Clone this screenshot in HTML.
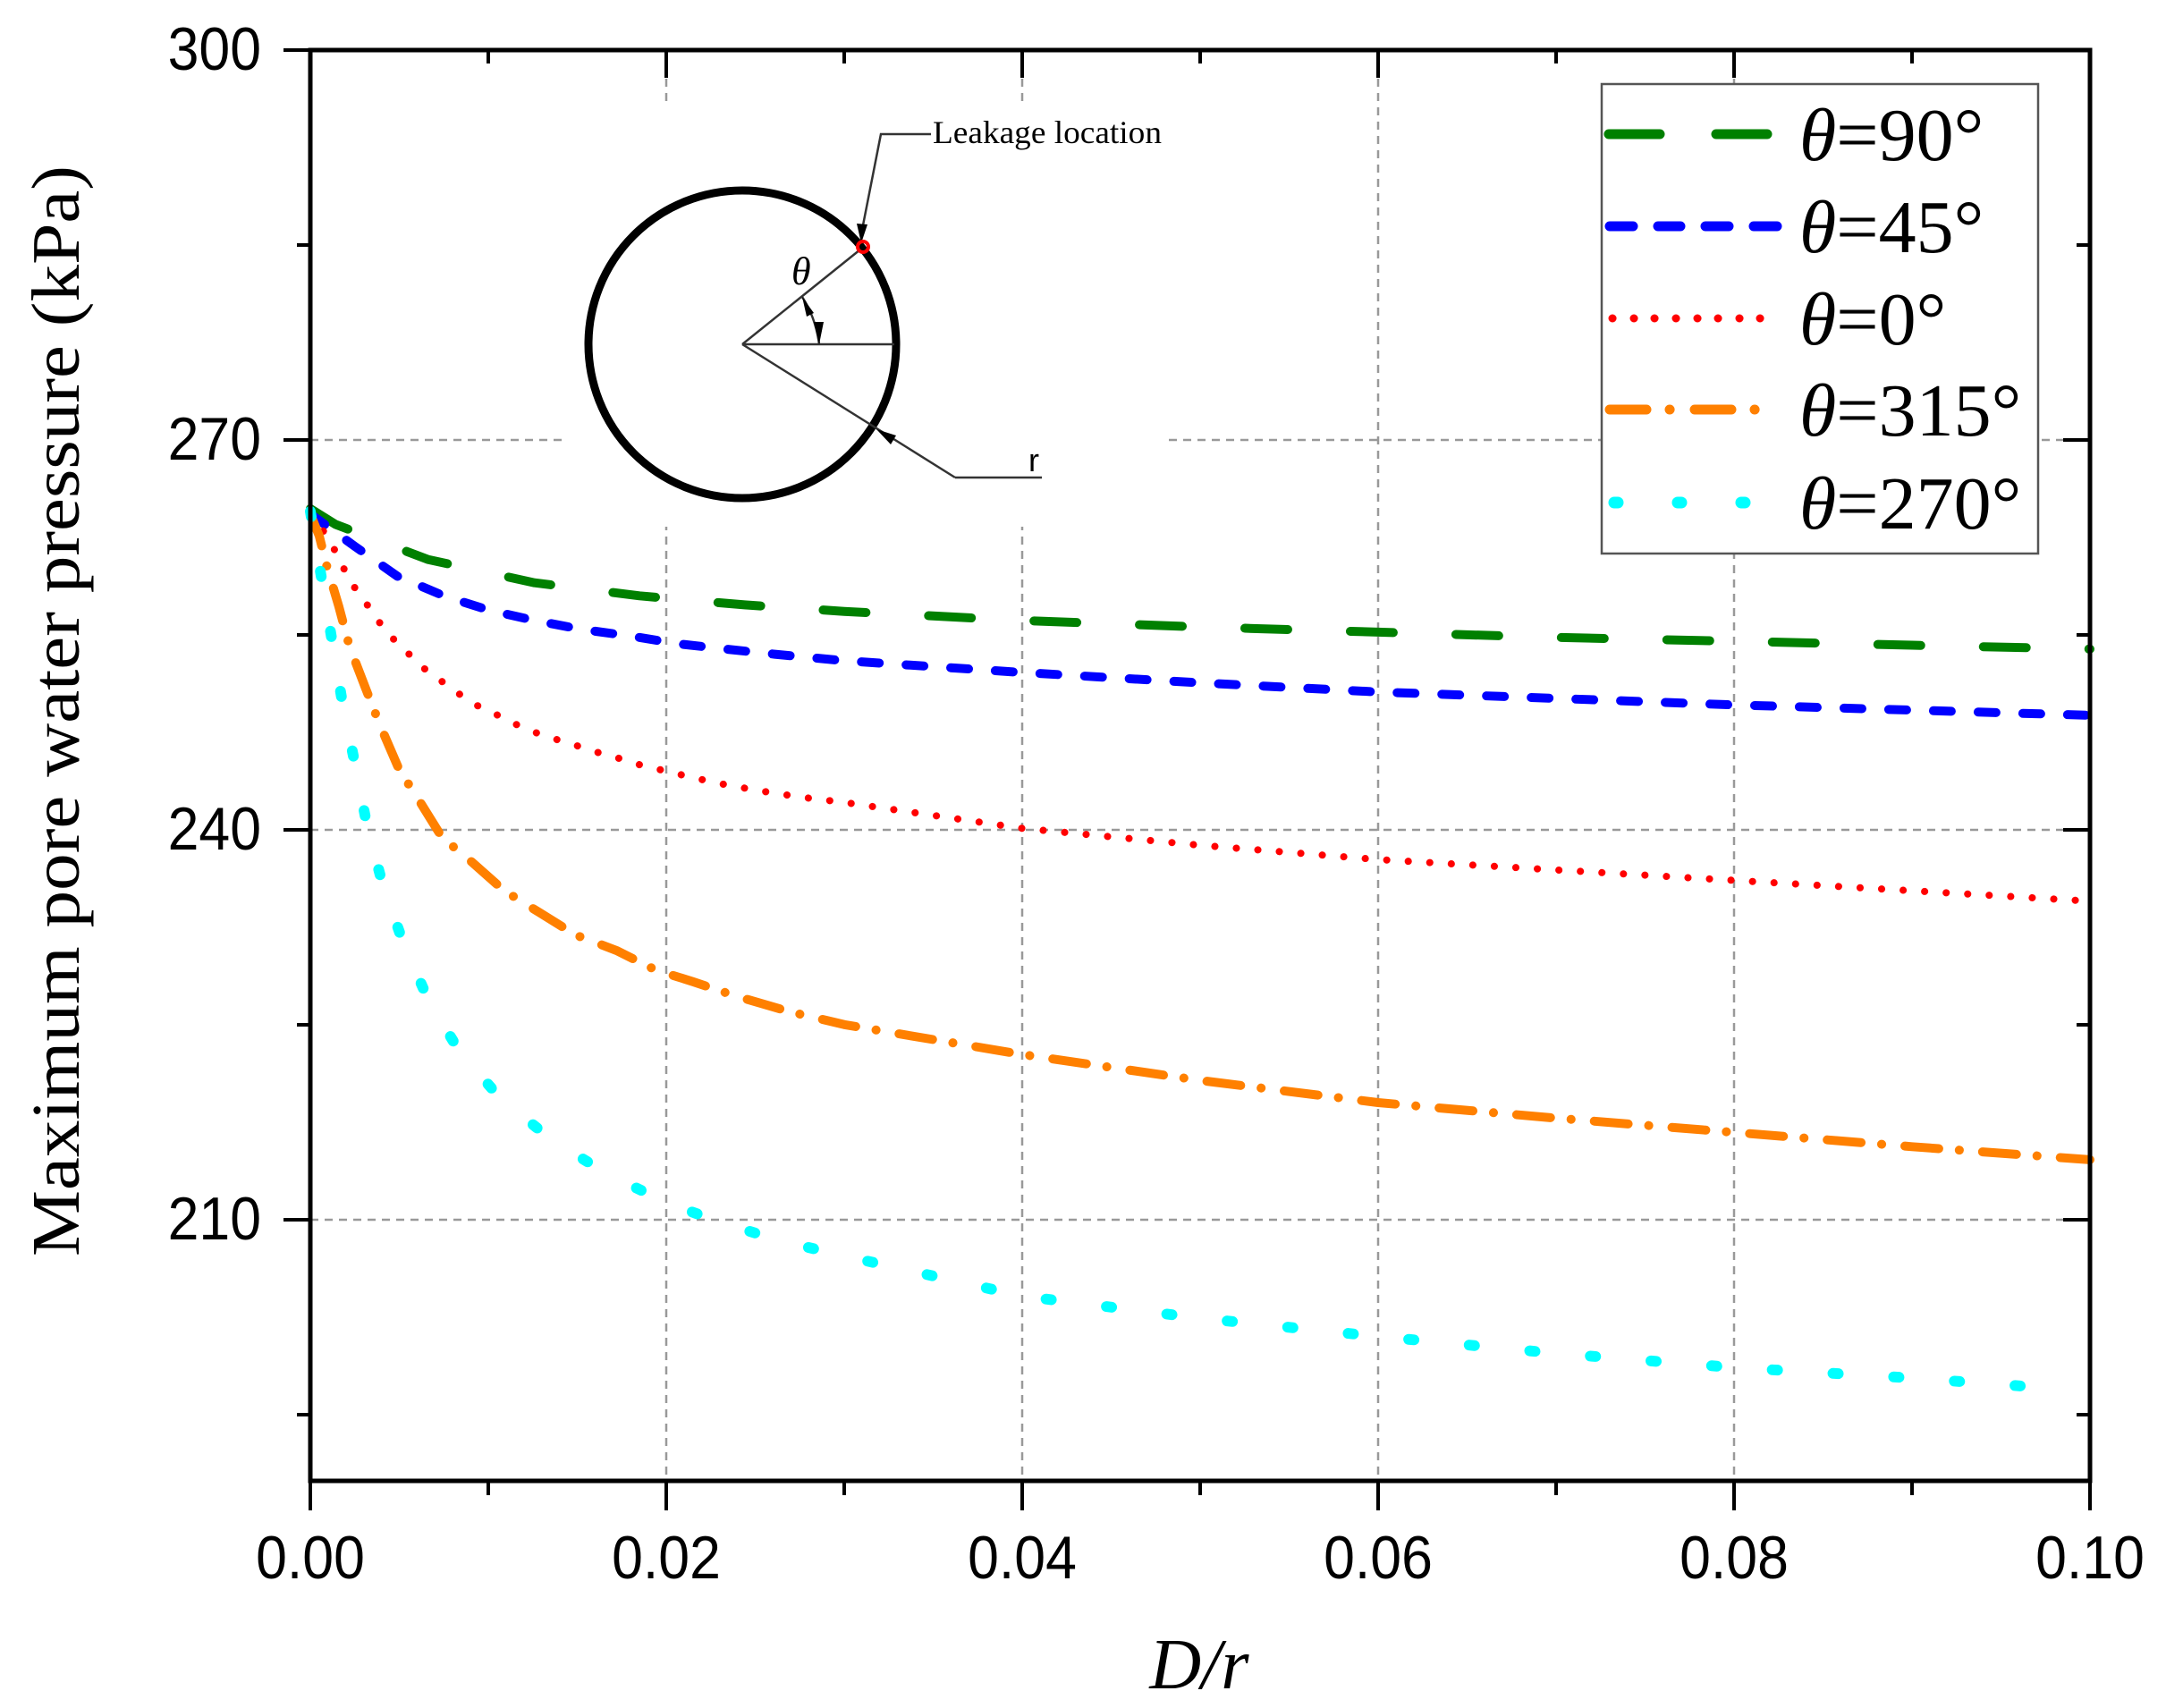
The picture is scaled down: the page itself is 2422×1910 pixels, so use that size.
<!DOCTYPE html>
<html><head><meta charset="utf-8"><style>html,body{margin:0;padding:0;background:#fff}svg{display:block}</style></head>
<body>
<svg width="2422" height="1910" viewBox="0 0 2422 1910" xmlns="http://www.w3.org/2000/svg">
<rect width="2422" height="1910" fill="#fff"/>
<!-- grid -->
<g stroke="#999" stroke-width="2.5" stroke-dasharray="9 7" fill="none">
<line x1="745" y1="56" x2="745" y2="1655"/>
<line x1="1143" y1="56" x2="1143" y2="1655"/>
<line x1="1541" y1="56" x2="1541" y2="1655"/>
<line x1="1939" y1="56" x2="1939" y2="1655"/>
<line x1="347" y1="492" x2="2337" y2="492"/>
<line x1="347" y1="928" x2="2337" y2="928"/>
<line x1="347" y1="1364" x2="2337" y2="1364"/>
</g>
<!-- inset white -->
<rect x="634" y="120" width="668" height="469" fill="#fff"/>
<!-- curves -->
<g fill="none" stroke-linecap="round" stroke-linejoin="round">
<polyline stroke="#008000" stroke-width="10" stroke-dasharray="48 70" points="347,568.9 374.9,586.3 478.3,625.6 597.7,651.7 715.2,666.3 832.6,676.4 944,683.7 1143,693.9 1342,701.1 1541,706.9 1740,712.8 1939,717.1 2138,721.5 2337,725.8"/>
<polyline stroke="#0000ff" stroke-width="10" stroke-dasharray="20 30" points="347,574.7 368.9,590.7 396.8,611 444.5,644.5 496.3,666.3 546,682.2 597.7,693.9 651.5,704 705.2,711.3 758.9,720 810.7,725.8 866.4,731.6 944,738.9 1143,752 1342,763.6 1541,773.8 1740,781 1939,788.3 2138,794.1 2337,799.9"/>
<polyline stroke="#ff0000" stroke-width="8" stroke-dasharray="0.1 24" points="347,574.7 358.9,589.3 372.9,612.5 382.8,632.8 394.8,654.6 408.7,673.5 422.6,693.9 436.6,711.3 454.5,728.7 472.4,746.2 492.3,760.7 512.2,775.2 532.1,788.3 554,798.5 573.9,808.7 597.7,818.8 619.6,826.1 643.5,833.4 665.4,840.6 687.3,846.4 709.2,853.7 733.1,859.5 756.9,865.3 800.7,875.5 848.5,884.2 896.2,891.5 944,897.3 1143,926.3 1342,945.2 1541,961.2 1740,972.8 1939,984.5 2138,996.1 2337,1007.7"/>
<polyline stroke="#ff8000" stroke-width="10" stroke-dasharray="38 23 0.1 26" points="347,574.7 357,599.4 364.9,631.4 378.8,677.9 390.8,722.9 408.7,769.4 424.6,810.1 446.5,861 466.4,891.5 494.3,936.5 526.1,962.7 563.9,996.1 603.7,1020.8 643.5,1045.5 689.3,1062.9 733.1,1084.7 774.9,1097.8 822.6,1113.8 882.3,1131.2 944,1145.8 1143,1179.2 1342,1208.2 1541,1233 1740,1250.4 1939,1266.3 2138,1282.3 2337,1296.9"/>
<polyline stroke="#00ffff" stroke-width="12" stroke-dasharray="6 62" points="347,571.8 358.9,643 370.9,714.2 382.8,785.4 396.8,853.7 410.7,924.9 428.6,991.7 452.5,1058.6 480.3,1121 514.2,1176.3 559.9,1228.6 617.6,1275.1 679.3,1312.8 745,1344.8 812.7,1369.5 882.3,1389.9 944,1404.4 1143,1449.4 1342,1474.1 1541,1494.5 1740,1513.4 1939,1529.3 2138,1541 2297,1552.6"/>
</g>
<!-- inset drawing -->
<g fill="none" stroke="#333" stroke-width="2.5">
<circle cx="830" cy="385" r="172" stroke="#000" stroke-width="9"/>
<line x1="830" y1="385" x2="962" y2="279"/>
<line x1="830" y1="385" x2="1000" y2="385"/>
<line x1="830" y1="385" x2="1068" y2="534"/>
<line x1="1068" y1="534" x2="1165" y2="534"/>
<polyline points="963,262 985,150 1041,150"/>
<path d="M897,332 Q912,355 916,385"/>
</g>
<polygon points="963,272 958,250 970,251" fill="#000"/>
<polygon points="980,480 1002,487 996,497" fill="#000"/>
<polygon points="916,385 910,360 921,360" fill="#000"/>
<polygon points="897,332 910,350 902,354" fill="#000"/>
<circle cx="965" cy="276" r="6" fill="none" stroke="#ff0000" stroke-width="4"/>
<text x="1043" y="160" font-family="Liberation Serif, serif" font-size="36" textLength="256" lengthAdjust="spacingAndGlyphs">Leakage location</text>
<text x="885" y="318" font-family="Liberation Serif, serif" font-style="italic" font-size="44">θ</text>
<text x="1150" y="527" font-family="Liberation Sans, sans-serif" font-size="36">r</text>
<!-- legend -->
<rect x="1791" y="94" width="488" height="525" fill="#fff" stroke="#555" stroke-width="2.5"/>
<g stroke-linecap="round" stroke-width="11" fill="none">
<line x1="1799" y1="150" x2="1856" y2="150" stroke="#008000"/>
<line x1="1919" y1="150" x2="1976" y2="150" stroke="#008000"/>
<path d="M1800 253h26M1854 253h25M1907 253h26M1961 253h26" stroke="#0000ff"/>
<path d="M1803 356h0.1M1827 356h0.1M1850 356h0.1M1874 356h0.1M1898 356h0.1M1921 356h0.1M1945 356h0.1M1968 356h0.1" stroke="#ff0000" stroke-width="9"/>
<path d="M1800 458h41M1867 458h0.1M1895 458h41M1962 458h0.1" stroke="#ff8000"/>
<path d="M1805 562h4M1876 562h4M1947 562h4" stroke="#00ffff" stroke-width="13"/>
</g>
<g font-family="Liberation Serif, serif" font-size="84" fill="#000">
<text x="2012" y="179"><tspan font-style="italic">θ</tspan>=90°</text>
<text x="2012" y="282"><tspan font-style="italic">θ</tspan>=45°</text>
<text x="2012" y="385"><tspan font-style="italic">θ</tspan>=0°</text>
<text x="2012" y="487"><tspan font-style="italic">θ</tspan>=315°</text>
<text x="2012" y="591"><tspan font-style="italic">θ</tspan>=270°</text>
</g>
<!-- axes -->
<rect x="347" y="56" width="1990" height="1600" fill="none" stroke="#000" stroke-width="5"/>
<g stroke="#000" stroke-width="4">
<path d="M347 1656v33M745 1656v33M1143 1656v33M1541 1656v33M1939 1656v33M2337 1656v33M546 1656v16M944 1656v16M1342 1656v16M1740 1656v16M2138 1656v16"/>
<path d="M745 56v31M1143 56v31M1541 56v31M1939 56v31M546 56v15M944 56v15M1342 56v15M1740 56v15M2138 56v15"/>
<path d="M347 56h-30M347 492h-30M347 928h-30M347 1364h-30M347 274h-15M347 710h-15M347 1146h-15M347 1582h-15"/>
<path d="M2337 492h-30M2337 928h-30M2337 1364h-30M2337 274h-15M2337 710h-15M2337 1146h-15M2337 1582h-15"/>
</g>
<g font-family="Liberation Sans, sans-serif" font-size="68" fill="#000">
<g text-anchor="end">
<text transform="translate(292,78) scale(0.92,1)">300</text>
<text transform="translate(292,514) scale(0.92,1)">270</text>
<text transform="translate(292,950) scale(0.92,1)">240</text>
<text transform="translate(292,1386) scale(0.92,1)">210</text>
</g>
<g text-anchor="middle">
<text transform="translate(347,1765) scale(0.92,1)">0.00</text>
<text transform="translate(745,1765) scale(0.92,1)">0.02</text>
<text transform="translate(1143,1765) scale(0.92,1)">0.04</text>
<text transform="translate(1541,1765) scale(0.92,1)">0.06</text>
<text transform="translate(1939,1765) scale(0.92,1)">0.08</text>
<text transform="translate(2337,1765) scale(0.92,1)">0.10</text>
</g>
</g>
<text transform="translate(88,795) rotate(-90)" text-anchor="middle" font-family="Liberation Serif, serif" font-size="76" textLength="1220" lengthAdjust="spacingAndGlyphs">Maximum pore water pressure (kPa)</text>
<text x="1341" y="1888" text-anchor="middle" font-family="Liberation Serif, serif" font-style="italic" font-size="80">D/r</text>
</svg>
</body></html>
